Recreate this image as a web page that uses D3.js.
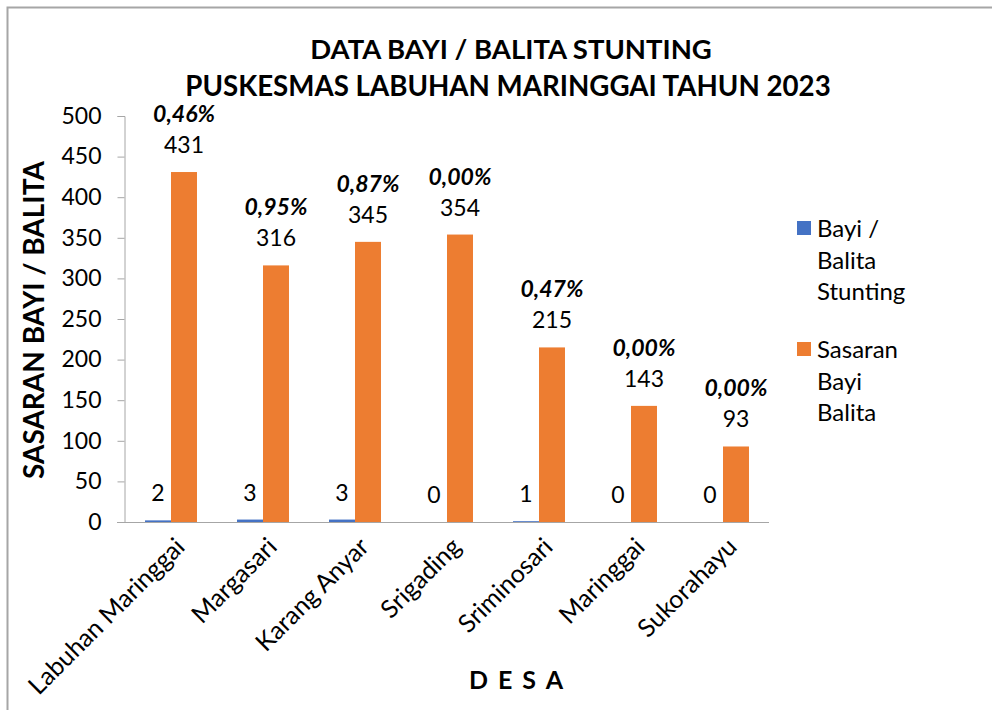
<!DOCTYPE html>
<html>
<head>
<meta charset="utf-8">
<script src="https://cdn.jsdelivr.net/npm/d3@7"></script>
<style>
  body { margin: 0; background: #fff; }
  svg { display: block; font-family: Lato, 'Open Sans', sans-serif; }
</style>
</head>
<body>
<svg class="main-svg" width="992" height="710"></svg>
<script>
var desa = ['Labuhan Maringgai', 'Margasari', 'Karang Anyar', 'Srigading',
            'Sriminosari', 'Maringgai', 'Sukorahayu'];
var stunting = [2, 3, 3, 0, 1, 0, 0];
var sasaran = [431, 316, 345, 354, 215, 143, 93];
var yTicks = [0, 50, 100, 150, 200, 250, 300, 350, 400, 450, 500];
var seriesNames = [['Bayi /', 'Balita', 'Stunting'], ['Sasaran', 'Bayi', 'Balita']];

var blue = '#4472c4',
    orange = '#ed7d31',
    axisColour = '#a6a6a6';

var d3 = window.d3;
var svg = d3.select('.main-svg');

// chart frame
svg.append('rect')
  .attr('x', 7.5).attr('y', 7.5)
  .attr('width', 1000).attr('height', 720)
  .attr('fill', 'none')
  .attr('stroke', axisColour)
  .attr('stroke-width', 2);

var x = d3.scaleBand()
  .domain(desa)
  .range([125, 769])
  .paddingInner(0.435)
  .paddingOuter(0.2175);

var y = d3.scaleLinear().domain([0, 500]).range([522, 116]);

var rows = desa.map((d, i) => ({ desa: d, stunting: stunting[i], sasaran: sasaran[i] }));

// title
svg.append('text')
  .attr('x', 511).attr('y', 59)
  .attr('text-anchor', 'middle')
  .attr('font-size', 27.5).attr('font-weight', 'bold')
  .text('DATA BAYI / BALITA STUNTING');
svg.append('text')
  .attr('x', 508).attr('y', 96)
  .attr('text-anchor', 'middle')
  .attr('font-size', 27.7).attr('font-weight', 'bold')
  .text('PUSKESMAS LABUHAN MARINGGAI TAHUN 2023');

// y axis
var yAxis = svg.append('g')
  .attr('transform', 'translate(124.5,0)')
  .call(d3.axisLeft(y).tickValues(yTicks).tickSize(7).tickPadding(16));
yAxis.select('.domain').attr('stroke', axisColour).attr('d', 'M-7,116.5H0.5V522.5');
yAxis.selectAll('.tick line').attr('stroke', axisColour);
yAxis.selectAll('.tick text')
  .attr('font-family', 'Lato, sans-serif')
  .attr('font-size', 23).attr('fill', '#000');

svg.append('text')
  .attr('transform', 'translate(44,320) rotate(-90)')
  .attr('text-anchor', 'middle')
  .attr('font-size', 28).attr('font-weight', 'bold')
  .text('SASARAN BAYI / BALITA');

// bars
var half = x.bandwidth() / 2;
svg.selectAll('rect.stunting')
  .data(rows).enter().append('rect')
  .attr('class', 'stunting')
  .attr('x', d => x(d.desa))
  .attr('y', d => y(d.stunting))
  .attr('width', half)
  .attr('height', d => y(0) - y(d.stunting))
  .attr('fill', blue);

svg.selectAll('rect.sasaran')
  .data(rows).enter().append('rect')
  .attr('class', 'sasaran')
  .attr('x', d => x(d.desa) + half)
  .attr('y', d => y(d.sasaran))
  .attr('width', half)
  .attr('height', d => y(0) - y(d.sasaran))
  .attr('fill', orange);

// x axis line
svg.append('line')
  .attr('x1', 117).attr('x2', 769)
  .attr('y1', 522.5).attr('y2', 522.5)
  .attr('stroke', axisColour);

// data labels
svg.selectAll('text.lblStunting')
  .data(rows).enter().append('text')
  .attr('class', 'lblStunting')
  .attr('x', d => x(d.desa) + half / 2)
  .attr('y', d => y(d.stunting) - 19)
  .attr('text-anchor', 'middle')
  .attr('font-size', 23)
  .text(d => d.stunting);

svg.selectAll('text.lblSasaran')
  .data(rows).enter().append('text')
  .attr('class', 'lblSasaran')
  .attr('x', d => x(d.desa) + half * 1.5)
  .attr('y', d => y(d.sasaran) - 19)
  .attr('text-anchor', 'middle')
  .attr('font-size', 23)
  .text(d => d.sasaran);

svg.selectAll('text.lblPct')
  .data(rows).enter().append('text')
  .attr('class', 'lblPct')
  .attr('x', d => x(d.desa) + half * 1.5)
  .attr('y', d => y(d.sasaran) - 50)
  .attr('text-anchor', 'middle')
  .attr('font-size', 23)
  .attr('font-weight', 'bold')
  .attr('font-style', 'italic')
  .text(d => (d.stunting / d.sasaran * 100).toFixed(2).replace('.', ',') + '%');

// category labels
svg.selectAll('text.cat')
  .data(desa).enter().append('text')
  .attr('class', 'cat')
  .attr('transform', d => 'translate(' + (x(d) + half + 3) + ',536) rotate(-45)')
  .attr('text-anchor', 'end')
  .attr('dy', '0.7em')
  .attr('font-size', 25)
  .text(d => d);

svg.append('text')
  .attr('x', 521).attr('y', 689)
  .attr('text-anchor', 'middle')
  .attr('font-size', 25).attr('font-weight', 'bold')
  .attr('letter-spacing', '0.4em')
  .text('DESA');

// legend
var legend = svg.selectAll('g.legend')
  .data(seriesNames).enter().append('g')
  .attr('class', 'legend')
  .attr('transform', (d, i) => 'translate(797,' + (221 + i * 121) + ')');
legend.append('rect')
  .attr('width', 14).attr('height', 14)
  .attr('fill', (d, i) => i === 0 ? blue : orange);
var lt = legend.append('text')
  .attr('font-size', 24);
lt.selectAll('tspan')
  .data(d => d).enter().append('tspan')
  .attr('x', 20)
  .attr('y', (d, i) => 16 + i * 31.5)
  .text(d => d);

console.log('loaded main');
</script>
</body>
</html>
